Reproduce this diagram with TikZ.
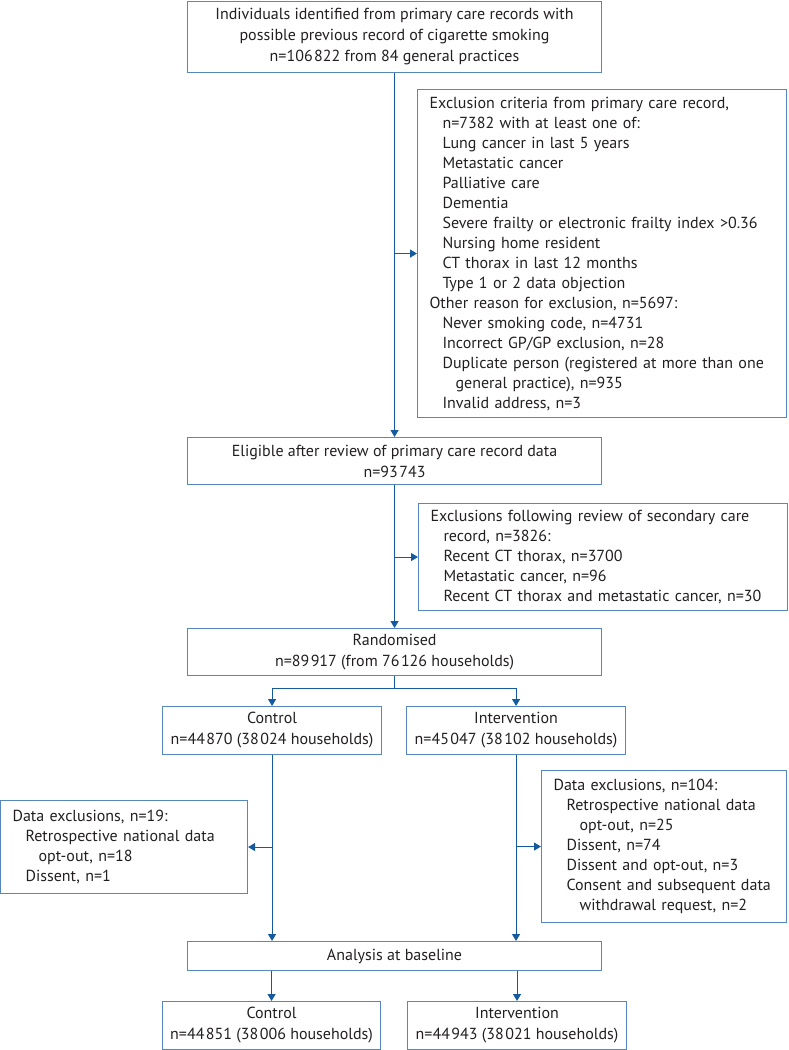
\documentclass[tikz,border=0pt]{standalone}
\usepackage{fontspec}
\setmainfont{PT Sans}
\usepackage{tikz}
\usetikzlibrary{arrows.meta,positioning}
\definecolor{boxline}{RGB}{86,136,190}
\definecolor{arrline}{RGB}{22,90,158}
\definecolor{txt}{RGB}{35,31,32}
\newcommand{\ia}{\hspace*{13pt}}
\newcommand{\ib}{\hspace*{26pt}}
\newcommand{\ts}{\kern1.5pt}
\tikzset{
	flowbox/.style = {draw=boxline, line width=1.1pt, anchor=north west,
		inner sep=0pt, text=txt},
	midbox/.style = {flowbox, align=center, font=\fontsize{16}{21}\selectfont},
	exclbox/.style = {flowbox, align=left, inner xsep=12pt,
		font=\fontsize{16}{20}\selectfont},
	link/.style = {draw=arrline, line width=1.1pt}
}

\begin{document}
\begin{tikzpicture}[x=1pt,y=-1pt,->,>={Triangle[length=7pt,width=8pt]}]
\useasboundingbox (0,0) rectangle (788,1050);
% main column
\node [midbox, minimum width=414pt, minimum height=71pt] (ident) at (187,0.5)
	{Individuals identified from primary care records with\\
	possible previous record of cigarette smoking\\
	n=106\ts822 from 84 general practices};
\node [exclbox, text width=345pt, minimum height=328pt] (exprim) at (417,89)
	{Exclusion criteria from primary care record,\\
	\ia n=7382 with at least one of:\\
	\ia Lung cancer in last 5 years\\
	\ia Metastatic cancer\\
	\ia Palliative care\\
	\ia Dementia\\
	\ia Severe frailty or electronic frailty index >0.36\\
	\ia Nursing home resident\\
	\ia CT thorax in last 12 months\\
	\ia Type 1 or 2 data objection\\
	Other reason for exclusion, n=5697:\\
	\ia Never smoking code, n=4731\\
	\ia Incorrect GP/GP exclusion, n=28\\
	\ia Duplicate person (registered at more than one\\
	\ib general practice), n=935\\
	\ia Invalid address, n=3};
\node [midbox, minimum width=414pt, minimum height=47pt] (elig) at (187,437)
	{Eligible after review of primary care record data\\n=93\ts743};
\node [exclbox, text width=345pt, minimum height=107pt] (exsec) at (418,503)
	{Exclusions following review of secondary care\\
	\ia record, n=3826:\\
	\ia Recent CT thorax, n=3700\\
	\ia Metastatic cancer, n=96\\
	\ia Recent CT thorax and metastatic cancer, n=30};
\node [midbox, minimum width=414pt, minimum height=47pt] (rand) at (187,628)
	{Randomised\\n=89\ts917 (from 76\ts126 households)};
% arms
\node [midbox, minimum width=219pt, minimum height=48pt] (ctrl) at (162,706)
	{Control\\n=44\ts870 (38\ts024 households)};
\node [midbox, minimum width=219pt, minimum height=48pt] (intv) at (406,706)
	{Intervention\\n=45\ts047 (38\ts102 households)};
\node [exclbox, text width=223pt, minimum height=93pt] (exctrl) at (0,800)
	{Data exclusions, n=19:\\
	\ia Retrospective national data\\
	\ib opt-out, n=18\\
	\ia Dissent, n=1};
\node [exclbox, text width=221pt, minimum height=152pt] (exintv) at (541,770)
	{Data exclusions, n=104:\\
	\ia Retrospective national data\\
	\ib opt-out, n=25\\
	\ia Dissent, n=74\\
	\ia Dissent and opt-out, n=3\\
	\ia Consent and subsequent data\\
	\ib withdrawal request, n=2};
\node [midbox, minimum width=414pt, minimum height=29pt] (base) at (187,941)
	{Analysis at baseline};
\node [midbox, minimum width=218pt, minimum height=48pt] (bctrl) at (162,1001)
	{Control\\n=44\ts851 (38\ts006 households)};
\node [midbox, minimum width=219pt, minimum height=48pt] (bintv) at (407,1001)
	{Intervention\\n=44\ts943 (38\ts021 households)};
% connectors
\draw [link] (ident.south) -- (elig.north);
\draw [link] (ident.south |- exprim.west) -- (exprim.west);
\draw [link] (elig.south) -- (rand.north);
\draw [link] (elig.south |- exsec.west) -- (exsec.west);
\draw [link] (rand.south) -- ++(0,12) -| (ctrl.north);
\draw [link] (rand.south) -- ++(0,12) -| (intv.north);
\draw [link] (ctrl.south) -- (ctrl.south |- base.north);
\draw [link] (ctrl.south |- exctrl.east) -- (exctrl.east);
\draw [link] (intv.south) -- (intv.south |- base.north);
\draw [link] (intv.south |- exintv.west) -- (exintv.west);
\draw [link] (bctrl.north |- base.south) -- (bctrl.north);
\draw [link] (bintv.north |- base.south) -- (bintv.north);
\end{tikzpicture}
\end{document}
